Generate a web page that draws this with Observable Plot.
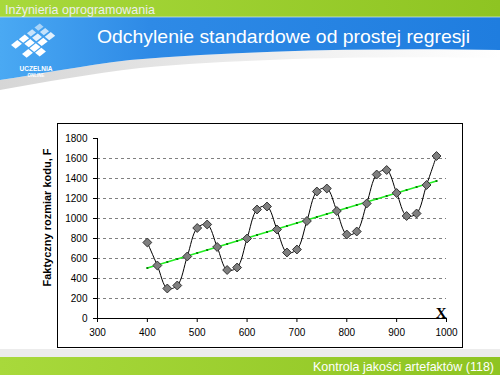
<!DOCTYPE html>
<html>
<head>
<meta charset="utf-8">
<script src="https://cdn.jsdelivr.net/npm/d3@7"></script>
<script src="https://cdn.jsdelivr.net/npm/@observablehq/plot@0.6"></script>
<style>
  html, body { margin: 0; padding: 0; background: #fff; }
  #slide { position: relative; width: 500px; height: 375px; overflow: hidden; background: #fff; font-family: "Liberation Sans", Arial, sans-serif; }
  #deco { position: absolute; left: 0; top: 0; }
  #frame { position: absolute; left: 57px; top: 123px; width: 406px; height: 225px; border: 1px solid #000; box-sizing: border-box; background: #fff; }
  #chart { position: absolute; left: 30px; top: 123px; }
</style>
</head>
<body>
<div id="slide">
  <svg id="deco" width="500" height="375" xmlns="http://www.w3.org/2000/svg">
    <defs>
      <linearGradient id="gGreen" x1="0" x2="1" y1="0" y2="0">
        <stop offset="0" stop-color="#a8d93b"/>
        <stop offset="1" stop-color="#8ec422"/>
      </linearGradient>
      <linearGradient id="gBlue" x1="0" x2="1" y1="0" y2="0">
        <stop offset="0" stop-color="#4aa9f3"/>
        <stop offset="0.3" stop-color="#2e8ae6"/>
        <stop offset="1" stop-color="#1f7ddf"/>
      </linearGradient>
      <linearGradient id="gGray" x1="0" x2="1" y1="0" y2="0">
        <stop offset="0" stop-color="#d6d6d6"/>
        <stop offset="0.6" stop-color="#f0f0f0"/>
        <stop offset="1" stop-color="#ffffff"/>
      </linearGradient>
    </defs>
    <rect x="0" y="0" width="500" height="17" fill="url(#gGreen)"/>
    <path d="M0,80 C40,74 80,66 130,60 C250,50 380,48 500,50 L500,58 C380,56 250,58 140,68 C90,74 45,82 0,90 Z" fill="url(#gGray)"/>
    <path d="M0,17 H500 V50 C380,48 250,50 130,60 C80,66 40,74 0,80 Z" fill="url(#gBlue)"/>
    <rect x="0" y="16.5" width="500" height="1" fill="#cfe8f5" opacity="0.7"/>
    <g id="logo" transform="matrix(5.5,4.5,-7.5,5.75,40,22)" fill="#ffffff">
      <rect x="0.15" y="0.15" width="0.7" height="0.7" opacity="0.55"/>
      <rect x="1.15" y="0.15" width="0.7" height="0.7" opacity="0.7"/>
      <rect x="0.15" y="1.15" width="0.7" height="0.7" opacity="0.7"/>
      <rect x="1.12" y="1.12" width="0.76" height="0.76" opacity="0.85"/>
      <rect x="2.1" y="0.1" width="0.8" height="0.8" opacity="0.85"/>
      <rect x="0.1" y="2.1" width="0.8" height="0.8"/>
      <rect x="2.1" y="1.1" width="0.8" height="0.8"/>
      <rect x="1.1" y="2.1" width="0.8" height="0.8"/>
      <rect x="2.08" y="2.08" width="0.84" height="0.84"/>
      <rect x="3.08" y="2.08" width="0.84" height="0.84"/>
      <rect x="2.08" y="3.08" width="0.84" height="0.84"/>
      <rect x="0.08" y="3.08" width="0.84" height="0.84"/>
    </g>
    <text x="36" y="71" text-anchor="middle" fill="#ffffff" font-size="6.5" font-weight="bold" font-family="Liberation Sans, Arial, sans-serif">UCZELNIA</text>
    <text x="36" y="77" text-anchor="middle" fill="#ffffff" font-size="4.5" font-weight="bold" font-family="Liberation Sans, Arial, sans-serif">ONLINE</text>
    <text x="5" y="13.5" fill="#eeeeee" font-size="13" font-family="Liberation Sans Narrow, Liberation Sans, Arial, sans-serif" textLength="150" lengthAdjust="spacingAndGlyphs">Inżynieria oprogramowania</text>
    <text x="97" y="42.5" fill="#ffffff" font-size="19" font-family="Liberation Sans, Arial, sans-serif" textLength="373" lengthAdjust="spacingAndGlyphs">Odchylenie standardowe od prostej regresji</text>
    <rect x="0" y="349" width="500" height="8" fill="#ececec"/>
    <rect x="0" y="357" width="500" height="18" fill="url(#gGreen)"/>
    <text x="494" y="371" text-anchor="end" fill="#ffffff" font-size="13" font-family="Liberation Sans Narrow, Liberation Sans, Arial, sans-serif" textLength="181" lengthAdjust="spacingAndGlyphs">Kontrola jakości artefaktów (118)</text>
  </svg>
  <div id="frame"></div>
  <div id="chart"></div>
</div>
<script>
// Size values (x) and actual code size F
const sizes = [400, 420, 440, 460, 480, 500, 520, 540, 560, 580,
               600, 620, 640, 660, 680, 700, 720, 740, 760, 780,
               800, 820, 840, 860, 880, 900, 920, 940, 960, 980];
const actual = [760, 530, 300, 330, 620, 905, 940, 715, 485, 510,
                800, 1090, 1120, 890, 660, 690, 975, 1270, 1300, 1075,
                840, 870, 1150, 1440, 1485, 1255, 1025, 1050, 1335, 1625];
// Regression line values (green line with markers)
const fitted = [505, 535, 565, 595, 625, 655, 685, 715, 745, 775,
                805, 835, 865, 895, 925, 955, 985, 1015, 1045, 1075,
                1105, 1135, 1165, 1195, 1225, 1255, 1285, 1315, 1345, 1375];
const xTicks = [300, 400, 500, 600, 700, 800, 900, 1000];
const yTicks = [0, 200, 400, 600, 800, 1000, 1200, 1400, 1600, 1800];
const gridTicks = [200, 400, 600, 800, 1000, 1200, 1400, 1600];
const yLabel = "Faktyczny rozmiar kodu, F";
const xLabel = "X";

const data = sizes.map((x, i) => ({x, y: actual[i], f: fitted[i]}));

const chart = Plot.plot({
  width: 433,
  height: 225,
  marginLeft: 67,
  marginRight: 17,
  marginTop: 15,
  marginBottom: 30,
  x: {domain: [300, 1000]},
  y: {domain: [0, 1800]},
  style: {fontFamily: "Liberation Sans, Arial, sans-serif", fontSize: "10px", background: "transparent", color: "#000", overflow: "visible"},
  marks: [
    Plot.gridY(gridTicks, {stroke: "#808080", strokeOpacity: 1, strokeDasharray: "3,3"}),
    Plot.axisY({ticks: yTicks, tickSize: 4, tickPadding: 6, tickFormat: "d", label: null, stroke: "#000", strokeOpacity: 1}),
    Plot.axisX({ticks: xTicks, tickSize: 4, tickPadding: 6, tickFormat: "d", label: null, stroke: "#000", strokeOpacity: 1}),
    Plot.ruleX([300], {stroke: "#000"}),
    Plot.ruleY([0], {stroke: "#000"}),
    Plot.line(data, {x: "x", y: "f", stroke: "#22ee22", strokeWidth: 1.5}),
    Plot.dot(data, {x: "x", y: "f", symbol: "square", r: 1.1, fill: "#008800", stroke: "none"}),
    Plot.line(data, {x: "x", y: "y", curve: "catmull-rom", stroke: "#000", strokeWidth: 1}),
    Plot.dot(data, {x: "x", y: "y", symbol: "diamond2", r: 4, fill: "#7f7f7f", stroke: "#333", strokeWidth: 1}),
    Plot.text([yLabel], {frameAnchor: "left", textAnchor: "middle", rotate: -90, dx: -50, dy: -11, fontWeight: "bold", fontSize: 11}),
    Plot.text([xLabel], {x: () => 1000, y: () => 0, textAnchor: "end", lineAnchor: "bottom", dy: -1, fontWeight: "bold", fontSize: 15, fontFamily: "Liberation Serif, Times New Roman, serif"})
  ]
});
document.getElementById("chart").appendChild(chart);
</script>
</body>
</html>
